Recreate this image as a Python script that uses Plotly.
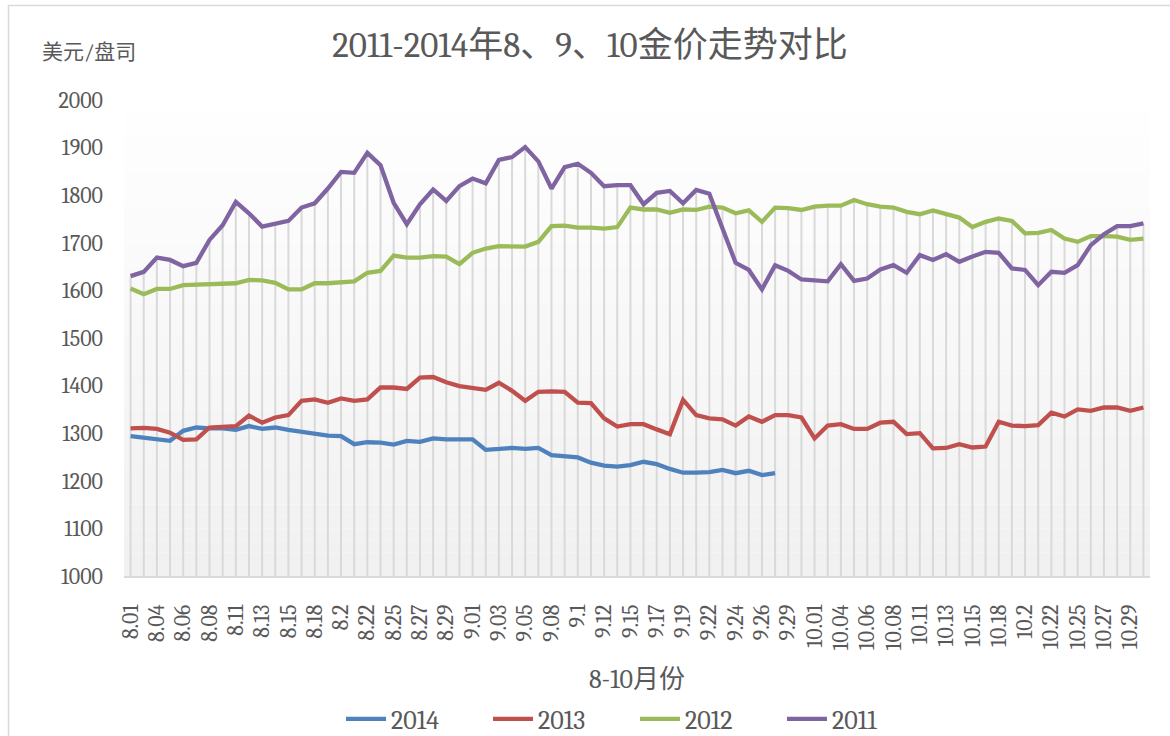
import plotly.graph_objects as go

# ---------------- data ----------------
dates = ["8.01", "8.02", "8.04", "8.05", "8.06", "8.07", "8.08", "8.09", "8.11", "8.12",
         "8.13", "8.14", "8.15", "8.16", "8.18", "8.19", "8.2", "8.21", "8.22", "8.23",
         "8.25", "8.26", "8.27", "8.28", "8.29", "8.30",
         "9.01", "9.02", "9.03", "9.04", "9.05", "9.06", "9.08", "9.09", "9.1", "9.11",
         "9.12", "9.13", "9.15", "9.16", "9.17", "9.18", "9.19", "9.20", "9.22", "9.23",
         "9.24", "9.25", "9.26", "9.27", "9.29", "9.3",
         "10.01", "10.02", "10.04", "10.05", "10.06", "10.07", "10.08", "10.09", "10.11", "10.12",
         "10.13", "10.14", "10.15", "10.16", "10.18", "10.19", "10.2", "10.21", "10.22", "10.23",
         "10.25", "10.26", "10.27", "10.28", "10.29", "10.30"]

gold_2014 = [1294, 1291, 1287, 1284, 1305, 1312, 1310, 1310, 1307, 1315,
             1309, 1312, 1307, 1303, 1298, 1295, 1294, 1277, 1281, 1280,
             1276, 1284, 1282, 1289, 1287, 1287, 1287, 1265, 1268, 1269,
             1267, 1269, 1254, 1251, 1249, 1238, 1232, 1230, 1233, 1240,
             1235, 1225, 1217, 1217, 1218, 1223, 1216, 1221, 1212, 1216]

gold_2013 = [1310, 1311, 1309, 1301, 1286, 1287, 1312, 1313, 1315, 1337,
             1322, 1333, 1338, 1368, 1371, 1364, 1373, 1368, 1371, 1396,
             1396, 1393, 1417, 1418, 1407, 1399, 1394, 1391, 1406, 1389,
             1368, 1387, 1388, 1387, 1364, 1363, 1331, 1314, 1319, 1319,
             1308, 1298, 1370, 1338, 1331, 1329, 1316, 1335, 1324, 1338,
             1338, 1333, 1289, 1316, 1319, 1309, 1309, 1322, 1324, 1298,
             1300, 1268, 1269, 1277, 1270, 1272, 1324, 1316, 1315, 1317,
             1343, 1335, 1350, 1347, 1354, 1354, 1347, 1354]

gold_2012 = [1604, 1592, 1603, 1603, 1611, 1612, 1612, 1612, 1615, 1622,
             1621, 1616, 1602, 1602, 1615, 1615, 1616, 1619, 1637, 1641,
             1673, 1669, 1669, 1672, 1671, 1655, 1679, 1688, 1693, 1692,
             1692, 1702, 1735, 1736, 1732, 1732, 1730, 1733, 1774, 1770,
             1770, 1763, 1770, 1769, 1776, 1774, 1762, 1768, 1744, 1774,
             1773, 1769, 1776, 1778, 1778, 1790, 1781, 1776, 1774, 1765,
             1760, 1768, 1760, 1753, 1733, 1744, 1751, 1746, 1720, 1721,
             1727, 1709, 1702, 1714, 1714, 1713, 1706, 1709]

gold_2011 = [1630, 1639, 1669, 1664, 1651, 1658, 1706, 1737, 1786, 1762,
             1734, 1739, 1746, 1774, 1783, 1814, 1849, 1847, 1889, 1863,
             1784, 1739, 1781, 1812, 1788, 1819, 1835, 1825, 1874, 1880,
             1901, 1871, 1814, 1859, 1866, 1847, 1819, 1821, 1821, 1781,
             1805, 1809, 1783, 1811, 1803, 1730, 1658, 1643, 1602, 1653,
             1641, 1623, 1620, 1619, 1655, 1620, 1625, 1644, 1653, 1637,
             1674, 1664, 1676, 1660, 1671, 1681, 1679, 1646, 1643, 1611,
             1639, 1637, 1653, 1695, 1718, 1735, 1735, 1741]

series_names = ["2014", "2013", "2012", "2011"]
series_values = [gold_2014, gold_2013, gold_2012, gold_2011]
series_colors = ["#4F81BD", "#C0504D", "#9BBB59", "#8064A2"]

y_ticks = [1000, 1100, 1200, 1300, 1400, 1500, 1600, 1700, 1800, 1900, 2000]

# ---------------- layout geometry ----------------
W, H = 1170, 736
L, R, T, B = 124, 20, 100, 160
PW, PH = W - L - R, H - T - B


def paper_x(px):
    return (px - L) / PW


def paper_y(py):
    return (H - B - py) / PH


SERIF = "Cambria, 'Liberation Serif', 'DejaVu Serif', 'Noto Sans CJK SC', serif"
TXT = "#595959"

fig = go.Figure()

# drop lines (from axis up to highest series value at each category)
dx, dy = [], []
for i, d in enumerate(dates):
    vals = [s[i] for s in series_values if i < len(s)]
    dx += [d, d, None]
    dy += [y_ticks[0], max(vals), None]
fig.add_trace(go.Scatter(x=dx, y=dy, mode="lines", showlegend=False, hoverinfo="skip",
                         line=dict(color="#D9D9D9", width=2)))

for name, vals, col in zip(series_names, series_values, series_colors):
    fig.add_trace(go.Scatter(x=dates[:len(vals)], y=vals, mode="lines", name=name,
                             line=dict(color=col, width=4.3)))

# gradient plot background (bands)
shapes = []
nb = 40
lo, hi = y_ticks[0], y_ticks[-1]
for k in range(nb):
    t = k / (nb - 1)
    c = int(241 + (255 - 241) * t)
    shapes.append(dict(type="rect", xref="paper", yref="y", x0=0, x1=1,
                       y0=lo + (hi - lo) * k / nb, y1=lo + (hi - lo) * (k + 1) / nb,
                       fillcolor=f"rgb({c},{c},{c})", line=dict(width=0), layer="below"))
# outer chart border
shapes.append(dict(type="rect", xref="paper", yref="paper",
                   x0=paper_x(8.5), x1=paper_x(1180), y0=paper_y(5.5), y1=paper_y(745),
                   line=dict(color="#D9D9D9", width=1.5), fillcolor="rgba(0,0,0,0)"))

fig.update_layout(
    width=W, height=H,
    margin=dict(l=L, r=R, t=T, b=B),
    paper_bgcolor="white", plot_bgcolor="white",
    font=dict(family=SERIF, color=TXT, size=22),
    title=dict(text="2011-2014年8、9、10金价走势对比", xref="container", x=590 / W,
               y=1 - 45 / H, yanchor="middle", xanchor="center",
               font=dict(size=35, color=TXT, family=SERIF)),
    shapes=shapes,
    showlegend=True,
    legend=dict(orientation="h", xref="container", yref="container", x=635 / W, y=1 - 719 / H,
                xanchor="center", yanchor="middle", font=dict(size=26, color=TXT),
                itemwidth=40, entrywidth=92, entrywidthmode="pixels",
                bgcolor="rgba(0,0,0,0)"),
    annotations=[
        dict(text="美元/盘司", xref="paper", yref="paper", x=paper_x(40), y=paper_y(52),
             xanchor="left", yanchor="middle", showarrow=False,
             font=dict(size=21, color=TXT, family=SERIF)),
        dict(text="8-10月份", xref="paper", yref="paper", x=0.5, y=paper_y(680),
             xanchor="center", yanchor="middle", showarrow=False,
             font=dict(size=26, color=TXT, family=SERIF)),
    ],
)

fig.update_xaxes(type="category", categoryorder="array", categoryarray=dates,
                 range=[-0.5, len(dates) - 0.5],
                 tickmode="array", tickvals=dates[::2], ticktext=dates[::2],
                 tickangle=-90, tickfont=dict(size=22, color=TXT),
                 showgrid=False, zeroline=False, showline=True, linecolor="#D9D9D9",
                 linewidth=1.5, ticks="", ticklabelstandoff=18, fixedrange=True)
fig.update_yaxes(range=[y_ticks[0], y_ticks[-1]], tickmode="array", tickvals=y_ticks,
                 tickfont=dict(size=22, color=TXT), showgrid=False, zeroline=False,
                 showline=False, ticks="", ticklabelstandoff=20, fixedrange=True)

fig.write_html("out.html", config={"displayModeBar": False},
               post_script="document.body.style.margin='0';document.body.style.overflow='hidden';")
